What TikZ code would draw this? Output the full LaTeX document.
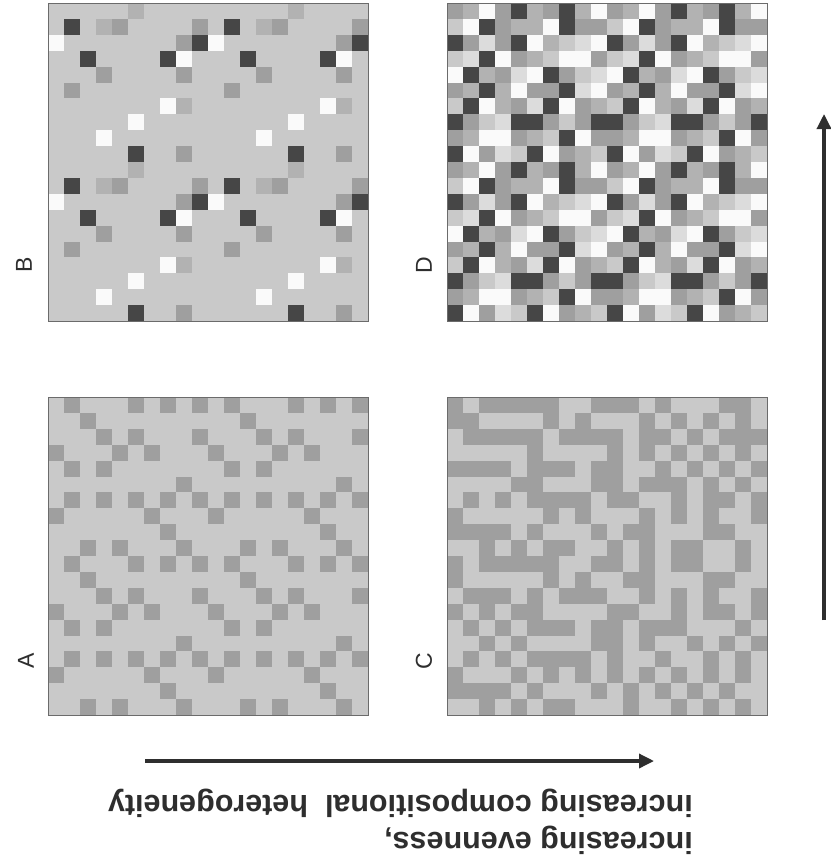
\documentclass[tikz,border=0pt]{standalone}
\usepackage{fontspec}
\setmainfont{Liberation Sans}
\usetikzlibrary{arrows.meta}

% grey levels of the cells
\definecolor{gw}{HTML}{FAFAFA}
\definecolor{ge}{HTML}{DCDCDC}
\definecolor{gl}{HTML}{C9C9C9}
\definecolor{gn}{HTML}{B2B2B2}
\definecolor{gm}{HTML}{9F9F9F}
\definecolor{gd}{HTML}{464646}
\definecolor{ink}{HTML}{2E2E2E}

% a 10x10 tile, laid 2x2 times from the corner (#1,#2)
\newcommand{\tilegrid}[3]{%
  \foreach \i in {0,1}{
    \foreach \j in {0,1}{
      \foreach \row [count=\r from 0] in {#3}{
        \foreach \v [count=\c from 0] in \row{
          \fill[fill=g\v] ({#1+16*(\c+10*\i)},{#2+15.9*(\r+10*\j)}) rectangle ++(16,15.9);
        }
      }
    }
  }
}
% a full 20x20 field
\newcommand{\fieldgrid}[3]{%
  \foreach \row [count=\r from 0] in {#3}{
    \foreach \v [count=\c from 0] in \row{
      \fill[fill=g\v] ({#1+16*\c},{#2+15.9*\r}) rectangle ++(16,15.9);
    }
  }
}

\begin{document}
\begin{tikzpicture}[x=1pt, y=-1pt, >=Stealth]
  \tikzset{
    frame/.style={draw=gd!80, line width=0.9pt},
    letter/.style={text=ink, font=\fontsize{23}{27}\selectfont, rotate=90},
    caption/.style={text=ink, font=\fontsize{30.5}{36}\selectfont\bfseries, rotate=180, anchor=base west, inner sep=0pt},
    axis/.style={draw=ink, line width=3.4pt, -{Triangle[length=15pt, width=14pt]}}
  }
  \useasboundingbox (0,0) rectangle (830,862);
  \fill[white] (0,0) rectangle (830,862);

  % B: few classes, uneven
  \tilegrid{48}{3}{
    {l,l,l,l,l,n,l,l,l,l},
    {l,d,l,n,m,l,l,l,l,m},
    {w,l,l,l,l,l,l,l,m,d},
    {l,l,d,l,l,l,l,d,w,l},
    {l,l,l,m,l,l,l,l,m,l},
    {l,m,l,l,l,l,l,l,l,l},
    {l,l,l,l,l,l,l,w,n,l},
    {l,l,l,l,l,w,l,l,l,l},
    {l,l,l,w,l,l,l,l,l,l},
    {l,l,l,l,l,d,l,l,m,l}}
  \draw[frame] (48,3) rectangle ++(320,318);
  \node[letter] (labB) at (24,265) {B};

  % A: two classes, uneven
  \tilegrid{48}{397}{
    {l,m,l,l,l,m,l,m,l,m},
    {l,l,m,l,l,l,l,l,l,l},
    {l,l,l,m,l,m,l,l,l,m},
    {m,l,l,l,m,l,m,l,l,l},
    {l,m,l,m,l,l,l,l,l,l},
    {l,l,l,l,l,l,l,l,m,l},
    {l,m,l,m,l,m,l,m,l,m},
    {m,l,l,l,l,l,m,l,l,l},
    {l,l,l,l,l,l,l,m,l,l},
    {l,l,m,l,m,l,l,l,m,l}}
  \draw[frame] (48,397) rectangle ++(320,318);
  \node[letter] (labA) at (26,661) {A};

  % D: many classes, even
  \tilegrid{447}{3}{
    {m,n,w,m,d,n,m,d,n,w},
    {l,w,d,m,n,n,w,d,m,m},
    {d,m,e,m,d,w,n,l,e,w},
    {l,e,d,w,m,n,l,w,w,m},
    {w,d,n,m,e,w,d,m,l,e},
    {m,n,d,n,w,m,m,d,e,w},
    {l,d,w,n,m,e,d,w,m,n},
    {d,m,l,e,d,d,m,l,m,d},
    {m,n,w,w,m,n,l,d,w,m},
    {d,w,m,e,l,d,w,m,n,l}}
  \draw[frame] (447,3) rectangle ++(320,318);
  \node[letter] (labD) at (424,265) {D};

  % C: two classes, even
  \fieldgrid{447}{397}{
    {m,l,m,m,m,m,m,l,l,m,m,m,l,m,l,l,l,m,m,l},
    {m,m,l,l,l,l,m,l,m,l,l,l,m,l,m,l,m,l,m,l},
    {l,m,m,m,m,m,l,m,m,m,m,l,m,m,l,m,l,m,m,m},
    {l,l,l,l,l,m,l,l,l,l,m,l,m,l,m,l,m,l,m,l},
    {m,m,m,m,l,m,m,m,l,m,m,l,l,m,l,m,l,m,l,m},
    {l,l,l,l,m,m,l,l,l,m,m,l,m,m,m,l,m,l,m,l},
    {l,m,l,m,l,m,m,m,m,l,m,m,l,l,m,l,m,m,l,m},
    {m,l,l,l,l,l,m,l,m,l,l,l,m,l,m,l,m,l,l,m},
    {m,m,m,m,l,m,l,l,l,m,l,m,m,l,l,l,m,m,l,l},
    {l,l,m,l,m,l,m,m,l,l,m,l,m,l,m,m,l,l,m,l},
    {m,l,m,m,m,m,m,l,l,m,m,l,m,l,m,m,l,l,m,l},
    {m,l,l,l,l,l,m,l,m,l,l,m,m,l,l,l,m,m,l,l},
    {l,m,m,m,l,m,l,m,m,m,l,l,m,l,m,l,m,l,l,m},
    {m,l,m,l,m,m,l,l,l,l,m,m,l,l,m,l,m,m,l,m},
    {l,m,l,m,l,m,m,m,l,m,m,l,m,m,m,l,l,l,m,l},
    {l,l,m,l,m,l,l,l,l,m,m,l,m,l,l,m,l,m,l,m},
    {l,m,l,m,l,m,m,m,m,l,m,l,l,m,l,l,m,l,m,l},
    {m,l,l,l,m,l,m,l,m,l,m,l,m,l,m,l,m,l,m,l},
    {m,m,m,m,l,m,l,l,l,m,l,m,l,m,l,m,l,m,l,l},
    {l,l,m,l,m,l,m,m,l,l,l,m,l,l,m,l,m,l,m,l}}
  \draw[frame] (447,397) rectangle ++(320,318);
  \node[letter] (labC) at (424,661) {C};

  % arrows
  \coordinate (hs) at (145,761);
  \coordinate (he) at (654,761);
  \coordinate (vs) at (824,620);
  \coordinate (ve) at (824,114);
  \draw[axis] (hs) -- (he);
  \draw[axis] (vs) -- (ve);

  % caption, printed upside down
  \node[caption] (capA) at (693,832) {increasing evenness,};
  \node[caption] (capB) at (693,795) {increasing compositional\ \ heterogeneity};
\end{tikzpicture}
\end{document}
